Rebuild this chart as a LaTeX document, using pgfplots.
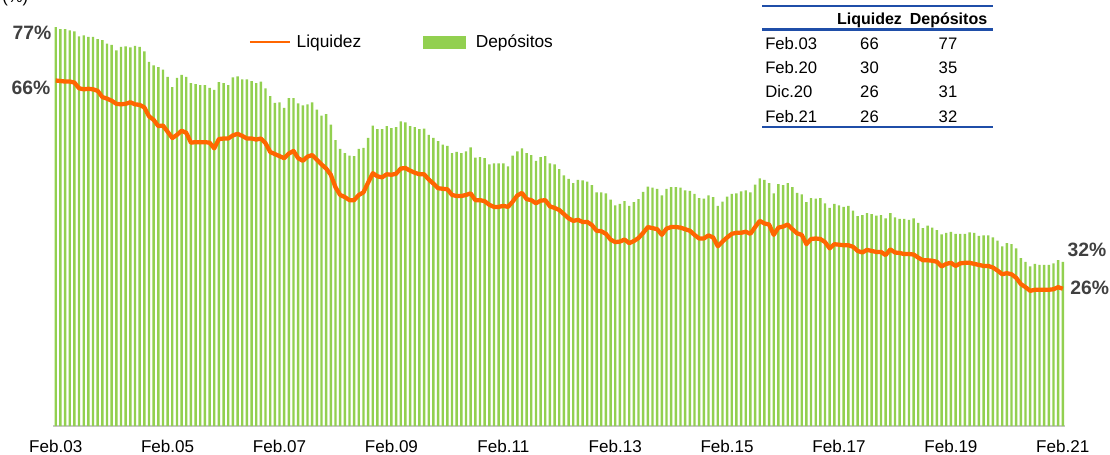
\documentclass[border=0pt]{standalone}
\usepackage{pgfplots}
\pgfplotsset{compat=1.18}
\usepackage{pgfplotstable}
\usepackage{fontspec}
\setmainfont{Liberation Sans}
\definecolor{dep}{HTML}{92D050}
\definecolor{liq}{HTML}{FF6600}
\definecolor{tblue}{HTML}{1F4EA8}
\definecolor{lab}{HTML}{404040}

\pgfplotstableread{
i dep liq
1 77.0 66.7
2 76.6 66.6
3 76.6 66.5
4 76.4 66.5
5 76.2 66.3
6 75.2 65.2
7 75.4 65.0
8 75.1 65.1
9 75.1 65.0
10 74.7 64.7
11 74.5 63.5
12 73.8 63.2
13 73.6 62.8
14 72.5 62.2
15 73.2 62.1
16 73.3 62.2
17 73.1 62.5
18 73.4 62.1
19 73.2 62.0
20 72.3 61.5
21 70.3 59.8
22 69.6 59.1
23 69.3 57.9
24 68.8 58.0
25 67.4 56.8
26 65.4 55.6
27 67.2 56.2
28 67.8 57.0
29 67.4 56.6
30 66.2 54.7
31 66.0 54.8
32 65.8 54.8
33 65.8 54.8
34 65.3 54.7
35 64.9 53.6
36 66.4 55.4
37 66.2 55.5
38 65.8 55.5
39 67.3 56.1
40 67.5 56.4
41 66.9 56.0
42 66.9 55.5
43 66.6 55.5
44 66.2 55.3
45 66.5 55.5
46 65.2 54.6
47 63.7 52.9
48 62.4 52.5
49 62.5 52.1
50 61.4 51.7
51 63.3 52.6
52 63.3 53.1
53 62.3 51.7
54 61.9 51.2
55 62.1 52.0
56 62.5 52.3
57 61.1 51.4
58 59.9 50.5
59 60.2 49.7
60 58.2 48.5
61 55.2 46.1
62 53.5 44.6
63 52.7 44.2
64 52.2 43.6
65 52.1 43.6
66 53.5 44.6
67 53.7 45.1
68 55.6 47.0
69 58.0 48.8
70 57.3 48.2
71 57.3 48.0
72 57.9 48.6
73 57.5 48.5
74 57.7 48.7
75 58.8 49.7
76 58.6 49.8
77 57.9 49.3
78 57.7 48.9
79 57.3 48.6
80 57.4 48.6
81 56.2 47.6
82 55.6 46.8
83 55.0 45.9
84 54.3 45.8
85 54.1 45.7
86 52.7 44.6
87 52.9 44.4
88 52.7 44.4
89 53.0 44.6
90 53.8 44.9
91 51.8 43.6
92 51.9 43.6
93 51.7 43.4
94 50.5 42.7
95 50.7 42.3
96 50.7 42.3
97 50.7 42.5
98 50.1 42.3
99 52.2 43.3
100 53.0 44.5
101 53.6 45.0
102 52.7 43.8
103 52.3 43.6
104 51.2 43.0
105 51.9 43.5
106 52.1 43.6
107 50.7 42.4
108 50.5 42.1
109 49.6 41.7
110 48.4 40.9
111 47.7 40.1
112 46.9 39.6
113 47.5 39.8
114 47.4 39.4
115 47.2 39.4
116 46.5 38.8
117 45.1 37.7
118 45.1 37.6
119 44.9 37.1
120 43.7 36.0
121 42.6 35.5
122 42.9 35.6
123 43.4 36.0
124 42.5 35.3
125 43.2 35.7
126 43.8 36.3
127 45.2 37.3
128 46.2 38.4
129 46.0 38.2
130 45.8 38.0
131 44.5 36.9
132 45.8 38.1
133 46.1 38.4
134 46.1 38.4
135 46.0 38.3
136 45.5 38.0
137 45.4 37.7
138 44.8 36.9
139 44.0 36.2
140 43.9 36.2
141 44.5 36.8
142 44.2 36.4
143 42.5 34.7
144 43.3 35.6
145 44.3 36.4
146 44.8 37.1
147 44.9 37.3
148 45.3 37.3
149 45.5 37.5
150 45.1 37.1
151 46.6 38.4
152 47.8 39.6
153 47.5 39.1
154 46.9 38.9
155 44.9 36.9
156 46.7 38.3
157 46.5 38.5
158 46.9 38.9
159 46.1 38.0
160 45.0 37.2
161 44.7 36.9
162 43.2 35.1
163 44.0 36.1
164 43.9 36.2
165 44.0 36.1
166 43.0 35.5
167 42.1 34.3
168 42.9 35.1
169 42.6 35.0
170 42.3 34.9
171 42.5 34.9
172 41.6 34.6
173 40.5 33.8
174 40.7 33.5
175 41.1 34.0
176 40.9 33.8
177 40.6 33.6
178 40.7 33.6
179 40.1 33.0
180 41.1 34.1
181 40.3 33.5
182 40.0 33.4
183 40.0 33.2
184 39.8 33.2
185 40.1 33.1
186 39.2 32.5
187 38.2 32.0
188 38.7 32.0
189 38.3 31.9
190 37.8 31.7
191 37.0 30.8
192 37.3 31.3
193 37.5 31.5
194 37.1 30.9
195 37.1 31.4
196 37.1 31.5
197 37.4 31.5
198 37.3 31.3
199 36.7 31.1
200 36.8 30.9
201 36.8 30.9
202 36.4 30.6
203 35.8 30.0
204 34.7 29.3
205 35.3 29.5
206 35.1 29.3
207 34.3 28.6
208 32.4 27.4
209 31.7 26.8
210 30.8 26.1
211 31.3 26.3
212 31.1 26.3
213 31.1 26.3
214 31.1 26.3
215 31.4 26.4
216 32.0 26.8
217 31.7 26.5
}\data

\begin{document}
\begin{tikzpicture}
\begin{axis}[
  at={(0,0)}, anchor=south west,
  scale only axis, width=758.8pt, height=310.8pt,
  xmin=0.5, xmax=217.5, ymin=0, ymax=80,
  axis x line*=bottom, axis y line=none,
  x axis line style={draw=black!22, line width=1.2pt, -},
  xtick={1,25,49,73,97,121,145,169,193,217},
  xticklabels={Feb.03,Feb.05,Feb.07,Feb.09,Feb.11,Feb.13,Feb.15,Feb.17,Feb.19,Feb.21},
  major tick length=0pt,
  xticklabel style={font=\fontsize{12.8}{15}\selectfont, anchor=base, yshift=-19.5pt},
  ytick=\empty,
  legend columns=2,
  legend style={at={(0.1924,0.9266)}, anchor=west, draw=none, fill=none,
    font=\fontsize{13}{15}\selectfont, inner sep=0pt,
    /tikz/every even column/.append style={column sep=44pt}},
  legend cell align=left,
]
\addlegendimage{legend image code/.code={\draw[liq, line width=2.2pt] (0pt,0pt) -- (30pt,0pt); \path (33pt,0pt);}}
\addlegendentry{Liquidez}
\addlegendimage{legend image code/.code={\fill[dep] (0pt,-4.5pt) rectangle (31.5pt,4.5pt); \path (37.5pt,0pt);}}
\addlegendentry{Depósitos}
\addplot[ybar, bar width=1.8pt, fill=dep, draw=none, forget plot] table[x=i,y=dep]{\data};
\addplot[liq, line width=3.2pt, line join=round, forget plot] table[x=i,y=liq]{\data};
\end{axis}
\begin{scope}[x=0.75pt, y=-0.75pt, shift={(-53.4,-426)}]
  \begin{scope}[every node/.style={inner sep=0pt, text=lab, font=\fontsize{14.5}{17}\selectfont\bfseries}]
    \node[anchor=base east] at (51.7,40) {77\%};
    \node[anchor=base east] at (50.5,95) {66\%};
    \node[anchor=base west] at (1067.3,256) {32\%};
    \node[anchor=base west] at (1070,294) {26\%};
  \end{scope}
  \node[anchor=base west, inner sep=0pt, font=\fontsize{12.5}{15}\selectfont] at (2,3) {(\%)};
  \draw[tblue, line width=1.6pt] (762,5.7) -- (993,5.7);
  \draw[tblue, line width=1.6pt] (762,29.5) -- (993,29.5);
  \draw[tblue, line width=1.6pt] (762,127.3) -- (993,127.3);
  \begin{scope}[every node/.style={inner sep=0pt, font=\fontsize{12.5}{15}\selectfont}]
    \node[anchor=base, font=\fontsize{12}{15}\selectfont\bfseries] at (869.5,25) {Liquidez};
    \node[anchor=base, font=\fontsize{12}{15}\selectfont\bfseries] at (948.5,25) {Depósitos};
    \node[anchor=base west] at (765,49.3) {Feb.03};
    \node[anchor=base] at (869.5,49.3) {66};
    \node[anchor=base] at (948,49.3) {77};
    \node[anchor=base west] at (765,73.6) {Feb.20};
    \node[anchor=base] at (869.5,73.6) {30};
    \node[anchor=base] at (948,73.6) {35};
    \node[anchor=base west] at (765,98) {Dic.20};
    \node[anchor=base] at (869.5,98) {26};
    \node[anchor=base] at (948,98) {31};
    \node[anchor=base west] at (765,122.3) {Feb.21};
    \node[anchor=base] at (869.5,122.3) {26};
    \node[anchor=base] at (948,122.3) {32};
  \end{scope}
  \pgfresetboundingbox
  \useasboundingbox (0,0) rectangle (1110,454);
\end{scope}
\end{tikzpicture}
\end{document}
